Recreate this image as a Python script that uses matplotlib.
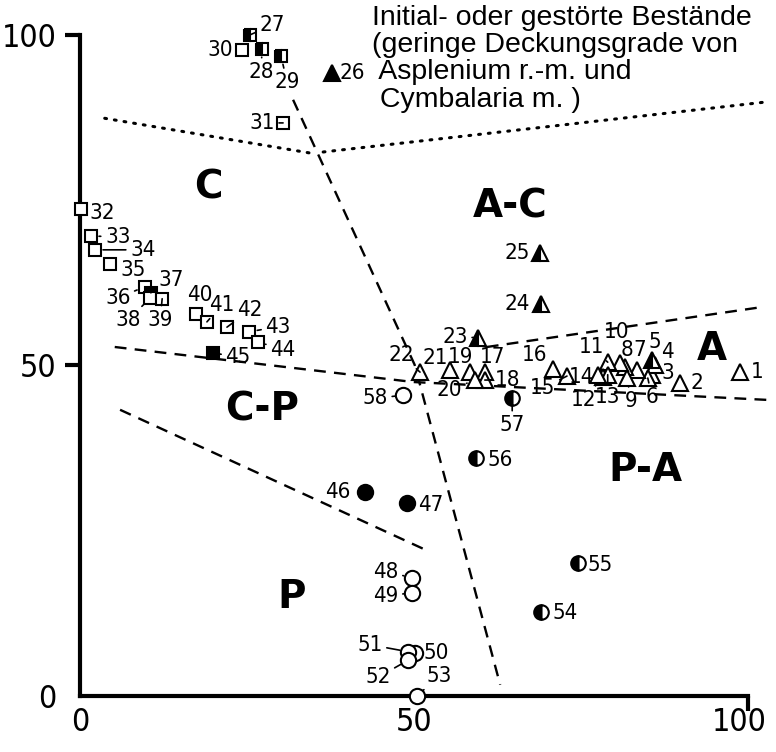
import matplotlib
matplotlib.use("Agg")
import matplotlib.pyplot as plt
import matplotlib.font_manager as fm
from matplotlib.transforms import ScaledTranslation

# ---------------- data ----------------
ids = list(range(1, 59))
xs = [98.8, 89.8, 85.6, 86.1, 85.6, 85.0, 83.4, 81.6, 81.9, 80.8,
      79.0, 78.3, 79.0, 77.5, 72.9, 70.8, 60.6, 60.6, 58.4, 59.1,
      55.4, 50.9, 59.6, 69.0, 68.9, 37.7, 25.4, 27.2, 30.1, 24.3,
      30.4, 0.1, 1.6, 2.2, 4.5, 9.7, 10.6, 10.5, 12.3, 17.4,
      19.0, 22.0, 25.3, 26.6, 19.9, 42.7, 49.0, 49.7, 49.7, 50.1,
      49.1, 49.1, 50.4, 69.0, 74.6, 59.3, 64.7, 48.4]
ys = [49.0, 47.4, 48.6, 50.1, 50.8, 48.1, 49.3, 49.8, 48.1, 50.4,
      50.5, 48.3, 48.6, 48.6, 48.4, 49.5, 49.0, 47.8, 49.0, 47.8,
      49.3, 49.0, 54.2, 59.3, 67.0, 94.3, 100.0, 97.9, 96.8, 97.7,
      86.7, 73.7, 69.6, 67.5, 65.4, 61.9, 61.0, 60.2, 60.1, 57.8,
      56.6, 55.8, 55.1, 53.6, 51.9, 30.9, 29.2, 17.9, 15.6, 6.5,
      6.7, 5.4, 0.0, 12.7, 20.1, 36.0, 45.1, 45.5]
# marker kind: t = triangle, s = square, c = circle
kinds = ["t"] * 26 + ["s"] * 19 + ["c"] * 13
# fill: o = open, f = filled, h = half filled
fills = ["o", "o", "o", "o", "h", "o", "o", "o", "o", "o",
         "o", "o", "o", "o", "o", "o", "o", "o", "o", "o",
         "o", "o", "h", "h", "h", "f", "h", "h", "h", "o",
         "o", "o", "o", "o", "o", "o", "f", "o", "o", "o",
         "o", "o", "o", "o", "f", "f", "f", "o", "o", "o",
         "o", "o", "o", "h", "h", "h", "h", "o"]

# boundary lines
vert_x = [31.9, 50.1, 62.9]
vert_y = [90.2, 50.1, 1.7]
mid_x = [5.2, 49.9, 102.8]
mid_y = [52.8, 47.5, 44.8]
ac_x = [60.9, 102.5]
ac_y = [52.8, 58.9]
cp_x = [6.0, 52.4]
cp_y = [43.3, 21.8]
dot1_x = [3.7, 34.7]
dot1_y = [87.4, 82.1]
dot2_x = [36.4, 103.0]
dot2_y = [82.3, 89.9]

regions = ["C", "A-C", "A", "C-P", "P-A", "P"]
tick_vals = [0, 50, 100]
tick_labels = ["0", "50", "100"]
note_lines = ["Initial- oder gestörte Bestände",
              "(geringe Deckungsgrade von",
              " Asplenium r.-m. und",
              " Cymbalaria m. )"]

# ---------------- layout (label offsets in pixels) ----------------
label_off = {
    1: (17, 0), 2: (17, 0), 3: (16, 2), 4: (12, 13), 5: (3, 18), 6: (4, -19),
    7: (3, 20), 8: (2, 17), 9: (4, -23), 10: (-3, 31), 11: (-16, 15),
    12: (-19, -23), 13: (0, -22), 14: (-16, -2), 15: (-24, -12), 16: (-18, 14),
    17: (8, 15), 18: (23, 0), 19: (-10, 15), 20: (-25, -10), 21: (-15, 12),
    22: (-19, 17), 23: (-23, 1), 24: (-24, 0), 25: (-23, 0), 26: (20, 0),
    27: (23, 10), 28: (0, -23), 29: (6, -26), 30: (-22, 0), 31: (-21, 0),
    32: (22, -4), 33: (27, -1), 34: (48, 0), 35: (23, -6), 36: (-27, -11),
    37: (20, 13), 38: (-22, -22), 39: (-2, -21), 40: (4, 19), 41: (15, 17),
    42: (23, 17), 43: (29, 5), 44: (25, -8), 45: (25, -4), 46: (-27, 0),
    47: (23, -2), 48: (-26, 6), 49: (-26, -3), 50: (22, 0), 51: (-38, 7),
    52: (-30, -17), 53: (23, 20), 54: (24, -1), 55: (22, -2), 56: (24, -2),
    57: (0, -27), 58: (-28, -3)}
leaders = {6, 9, 11, 12, 13, 15, 18, 20, 22, 23, 27, 28, 29, 31, 33, 34, 36,
           37, 38, 39, 41, 42, 43, 44, 45, 48, 49, 51, 52, 53, 57, 58}


def find_narrow():
    pref = ["liberation sans narrow", "dejavu sans condensed",
            "roboto condensed", "open sans condensed", "noto sans condensed"]
    cands = []
    for e in fm.fontManager.ttflist:
        nm = e.name.lower()
        fn = e.fname.lower()
        isn = ("narrow" in nm or "condensed" in nm or "narrow" in fn
               or "condensed" in fn or str(e.stretch) in ("condensed", "semi-condensed"))
        if not isn:
            continue
        if e.style != "normal":
            continue
        w = e.weight if isinstance(e.weight, int) else 400
        if w != 400:
            continue
        score = 10
        for k, p in enumerate(pref):
            if p in nm or p.replace(" ", "") in fn.replace("-", "").replace("_", ""):
                score = k
        cands.append((score, e.fname))
    if cands:
        cands.sort()
        return fm.FontProperties(fname=cands[0][1])
    return fm.FontProperties(family="DejaVu Sans")


narrow_fp = find_narrow()


def has_font(name):
    try:
        fm.findfont(fm.FontProperties(family=name), fallback_to_default=False)
        return True
    except Exception:
        return False


plain = "Liberation Sans" if has_font("Liberation Sans") else "DejaVu Sans"

W, H = 776, 752
fig = plt.figure(figsize=(W / 100, H / 100), dpi=100)
ax = fig.add_axes([80 / W, 1 - 696 / H, 668 / W, 661 / H])
ax.set_xlim(0, 100)
ax.set_ylim(0, 100)

for s in ["top", "right"]:
    ax.spines[s].set_visible(False)
for s in ["left", "bottom"]:
    ax.spines[s].set_linewidth(3.0)
    ax.spines[s].set_capstyle("projecting")

ax.set_xticks(tick_vals)
ax.set_yticks(tick_vals)
ax.set_xticklabels(tick_labels)
ax.set_yticklabels(tick_labels)
ax.tick_params(axis="both", direction="out", length=11, width=3.0)
ax.tick_params(axis="x", pad=-3)
ax.tick_params(axis="y", pad=6)
for lab in ax.get_xticklabels() + ax.get_yticklabels():
    fp = narrow_fp.copy()
    fp.set_size(23)
    lab.set_fontproperties(fp)
xl = ax.get_xticklabels()
xl[2].set_transform(xl[2].get_transform()
                    + ScaledTranslation(-0.09, 0, fig.dpi_scale_trans))
ax.xaxis.get_major_ticks()[0].tick1line.set_visible(False)
ax.yaxis.get_major_ticks()[0].tick1line.set_visible(False)
ax.xaxis.get_major_ticks()[1].tick1line.set_visible(False)

# boundary lines
dash = dict(color="black", lw=1.7, linestyle=(0, (5, 3.5)), clip_on=False)
ax.plot(vert_x, vert_y, **dash)
ax.plot(mid_x, mid_y, **dash)
ax.plot(ac_x, ac_y, **dash)
ax.plot(cp_x, cp_y, **dash)
dotted = dict(color="black", lw=2.2, linestyle=(0, (0.6, 2.6)),
              dash_capstyle="round", clip_on=False)
ax.plot(dot1_x, dot1_y, **dotted)
ax.plot(dot2_x, dot2_y, **dotted)

# markers
msym = {"t": "^", "s": "s", "c": "o"}
msize = {"t": 11, "s": 8.6, "c": 11}
for i, x, y, k, f in zip(ids, xs, ys, kinds, fills):
    kw = dict(marker=msym[k], markersize=msize[k], markeredgecolor="black",
              markeredgewidth=1.5, linestyle="none", clip_on=False, zorder=5)
    if f == "o":
        kw.update(markerfacecolor="white")
    elif f == "f":
        kw.update(markerfacecolor="black")
    else:
        kw.update(markerfacecolor="black", fillstyle="left",
                  markerfacecoloralt="white")
    if k == "c" and f == "h":
        kw["markersize"] = 10.5
    ax.plot([x], [y], **kw)

# point labels
for i, x, y in zip(ids, xs, ys):
    dx, dy = label_off[i]
    ap = None
    if i in leaders:
        ap = dict(arrowstyle="-", lw=1.2, color="black", shrinkA=1, shrinkB=6)
    fp = narrow_fp.copy()
    fp.set_size(16)
    ax.annotate(str(i), (x, y), xytext=(dx, dy), textcoords="offset pixels",
                ha="center", va="center", fontproperties=fp,
                arrowprops=ap, zorder=6, annotation_clip=False)

# region labels
reg_pos = [(19.2, 77.0), (64.4, 74.0), (94.6, 52.5), (27.2, 43.3),
           (84.6, 34.2), (31.7, 15.0)]
for r, (px, py) in zip(regions, reg_pos):
    ax.text(px, py, r, ha="center", va="center", fontsize=28,
            family="DejaVu Sans", fontweight="bold")

# note text top right
note_y = [18, 45, 72, 100]
for t, py in zip(note_lines, note_y):
    fig.text(372 / W, 1 - py / H, t, ha="left", va="center", fontsize=20.5,
             family=plain)

fig.savefig("out.png", dpi=100)
